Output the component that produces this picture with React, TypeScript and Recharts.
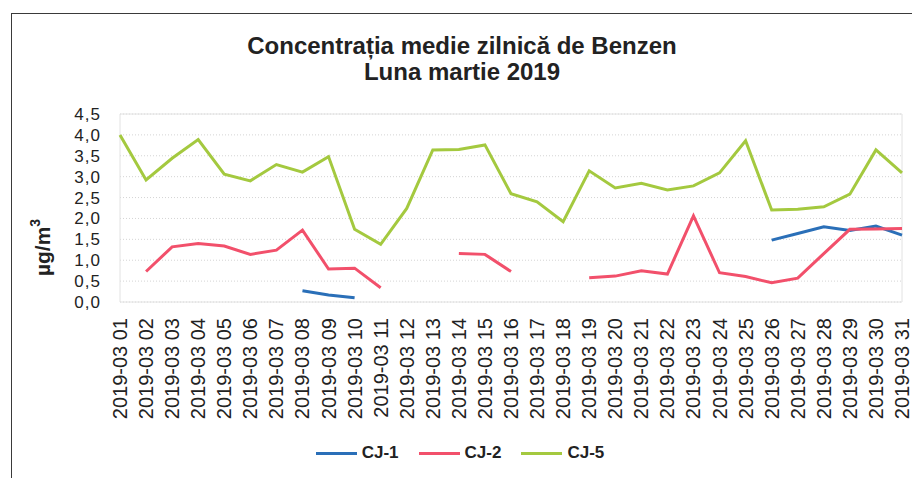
import React from 'react';
import { LineChart, Line, XAxis, YAxis, CartesianGrid, Legend, ReferenceArea, Label } from 'recharts';

const categories = [
  '2019-03 01', '2019-03 02', '2019-03 03', '2019-03 04', '2019-03 05', '2019-03 06', '2019-03 07',
  '2019-03 08', '2019-03 09', '2019-03 10', '2019-03 11', '2019-03 12', '2019-03 13', '2019-03 14',
  '2019-03 15', '2019-03 16', '2019-03 17', '2019-03 18', '2019-03 19', '2019-03 20', '2019-03 21',
  '2019-03 22', '2019-03 23', '2019-03 24', '2019-03 25', '2019-03 26', '2019-03 27', '2019-03 28',
  '2019-03 29', '2019-03 30', '2019-03 31',
];

const cj1: (number | null)[] = [
  null, null, null, null, null, null, null, 0.27, 0.17, 0.1, null, null, null, null, null, null,
  null, null, null, null, null, null, null, null, null, 1.48, 1.64, 1.8, 1.71, 1.82, 1.6,
];

const cj2: (number | null)[] = [
  null, 0.73, 1.32, 1.4, 1.34, 1.14, 1.24, 1.72, 0.79, 0.81, 0.34, null, null, 1.16, 1.14, 0.73,
  null, null, 0.58, 0.62, 0.75, 0.67, 2.06, 0.7, 0.61, 0.46, 0.57, 1.16, 1.74, 1.75, 1.76,
];

const cj5: (number | null)[] = [
  4.0, 2.92, 3.44, 3.89, 3.06, 2.9, 3.29, 3.11, 3.48, 1.74, 1.38, 2.24, 3.64, 3.65, 3.76, 2.59,
  2.4, 1.92, 3.14, 2.73, 2.84, 2.68, 2.78, 3.09, 3.86, 2.2, 2.22, 2.28, 2.58, 3.64, 3.09,
];

const yTicks = [0, 0.5, 1, 1.5, 2, 2.5, 3, 3.5, 4, 4.5];

const seriesNames = ['CJ-1', 'CJ-2', 'CJ-5'];
const seriesColors = ['#2a6fb8', '#f2506b', '#a4c93f'];

const data = categories.map((c, i) => ({
  day: c,
  'CJ-1': cj1[i],
  'CJ-2': cj2[i],
  'CJ-5': cj5[i],
}));

const FONT = '"Liberation Sans", Arial, sans-serif';

const XTick = (props: any) => {
  const { x, y, payload } = props;
  return (
    <text
      x={x}
      y={y}
      transform={`rotate(-90, ${x}, ${y})`}
      textAnchor="end"
      dominantBaseline="central"
      fontSize={20}
      fill="#222"
      fontFamily={FONT}
    >
      {payload.value}
    </text>
  );
};

const YLabel = (props: any) => {
  const vb = props.viewBox || { x: 0, y: 0, width: 0, height: 0 };
  const cx = 43;
  const cy = vb.y + vb.height * 0.71;
  return (
    <text
      x={cx}
      y={cy}
      transform={`rotate(-90, ${cx}, ${cy})`}
      textAnchor="middle"
      dominantBaseline="central"
      fontSize={21}
      fontWeight="bold"
      fill="#222"
      fontFamily={FONT}
    >
      µg/m
      <tspan fontSize={14} dy={-8}>3</tspan>
    </text>
  );
};

const LegendContent = () => (
  <div
    style={{
      display: 'flex',
      justifyContent: 'center',
      alignItems: 'center',
      height: 24,
      paddingLeft: 18,
      fontFamily: FONT,
      fontWeight: 'bold',
      fontSize: 17,
      color: '#222',
    }}
  >
    {seriesNames.map((n, i) => (
      <div key={n} style={{ display: 'flex', alignItems: 'center', marginRight: i < 2 ? 20 : 0 }}>
        <div style={{ width: 41, height: 3, background: seriesColors[i], marginRight: 5 }} />
        <span>{n}</span>
      </div>
    ))}
  </div>
);

export default function App() {
  return (
    <div style={{ position: 'absolute', left: 0, top: 0, width: 912, height: 478, background: '#fff', overflow: 'hidden' }}>
      <div
        style={{
          position: 'absolute',
          left: 11,
          top: 13,
          width: 940,
          height: 500,
          borderLeft: '1.5px solid #3a3a3a',
          borderTop: '1.5px solid #3a3a3a',
        }}
      />
      <div
        style={{
          position: 'absolute',
          left: 0,
          top: 33,
          width: 924,
          textAlign: 'center',
          fontFamily: FONT,
          fontWeight: 'bold',
          fontSize: 24,
          lineHeight: '26px',
          color: '#222',
        }}
      >
        <div>Concentrația medie zilnică de Benzen</div>
        <div>Luna martie 2019</div>
      </div>
      <LineChart
        width={912}
        height={478}
        data={data}
        margin={{ top: 114, right: 10, left: 0, bottom: 0 }}
      >
        <CartesianGrid vertical={false} stroke="#d4d4d4" strokeDasharray="1 2" />
        <ReferenceArea
          x1={categories[0]}
          x2={categories[categories.length - 1]}
          y1={0}
          y2={4.5}
          fill="none"
          stroke="#e2e2e2"
          strokeWidth={1}
        />
        <XAxis
          dataKey="day"
          ticks={categories}
          interval={0}
          axisLine={false}
          tickLine={false}
          tickSize={0}
          tickMargin={16}
          height={140}
          tick={<XTick />}
        />
        <YAxis
          domain={[0, 4.5]}
          ticks={yTicks}
          interval={0}
          width={120}
          axisLine={false}
          tickLine={false}
          tickSize={0}
          tickMargin={19}
          tick={{ fontSize: 17, fill: '#222', fontFamily: FONT, letterSpacing: 1 }}
          tickFormatter={(v: number) => v.toFixed(1).replace('.', ',')}
        >
          <Label content={<YLabel />} />
        </YAxis>
        <Legend verticalAlign="bottom" height={36} content={<LegendContent />} wrapperStyle={{ top: 441 }} />
        {seriesNames.map((n, i) => (
          <Line
            key={n}
            type="linear"
            dataKey={n}
            stroke={seriesColors[i]}
            strokeWidth={3}
            dot={false}
            activeDot={false}
            connectNulls={false}
            isAnimationActive={false}
          />
        ))}
      </LineChart>
    </div>
  );
}
